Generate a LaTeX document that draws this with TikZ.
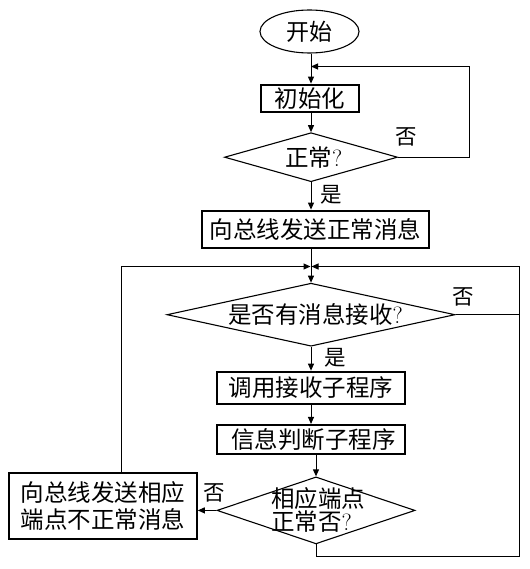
\documentclass[tikz,border=0pt]{standalone}
\usepackage{fontspec}
\newfontfamily\cjk{Noto Sans CJK SC}
\usetikzlibrary{arrows.meta,shapes.geometric}
\begin{document}
\begin{tikzpicture}[x=1pt,y=-1pt,
  line width=1pt,
  arr/.style={-{Triangle[length=7pt,width=6pt]}},
  txt/.style={inner sep=0pt,font=\cjk\fontsize{23.5}{23}\selectfont},
  proc/.style={draw,line width=2.2pt,rectangle,inner sep=0pt,font=\cjk\fontsize{23.5}{27}\selectfont,align=center},
  dec/.style={draw,line width=1.1pt,diamond,inner sep=0pt},
  lab/.style={inner sep=0pt,font=\cjk\fontsize{21.5}{24}\selectfont},
]
\useasboundingbox (0,0) rectangle (529,569);
\coordinate (ax) at (311,0);
\coordinate (ax2) at (316,0);
\coordinate (lx) at (121.7,0);
\coordinate (rx) at (519.5,0);
\coordinate (l1x) at (469,0);
\coordinate (t1) at (0,66.5);
\coordinate (bot) at (0,556);
\coordinate (m) at (311,266.5);

\node[draw,ellipse,line width=1.1pt,minimum width=99pt,minimum height=43pt,inner sep=0pt,font=\cjk\fontsize{23}{23}\selectfont] (start) at (309.5,31.5) {开始};
\node[proc,minimum width=98pt,minimum height=27.6pt] (init) at (310,98.5) {初始化};
\node[dec,minimum width=173pt,minimum height=49pt] (d1) at (311,157.2) {};
\node[txt] (d1t) at (313.7,158) {正常{\rmfamily ?}};
\node[proc,minimum width=227.6pt,minimum height=37.6pt] (box2) at (315.5,229.5) {向总线发送正常消息};
\node[dec,minimum width=288pt,minimum height=63pt] (d2) at (311,314.7) {};
\node[txt] (d2t) at (315.5,314) {是否有消息接收{\rmfamily ?}};
\node[proc,minimum width=188pt,minimum height=32.3pt] (box3) at (311,387.9) {调用接收子程序};
\node[proc,minimum width=188pt,minimum height=29.3pt] (box4) at (311,439.7) {\hspace*{5pt}信息判断子程序};
\node[dec,minimum width=198pt,minimum height=67pt] (d3) at (316,510.4) {};
\node[txt,align=left] (d3t) at (318,509.5) {相应端点\\正常否{\rmfamily ?}};
\node[proc,minimum width=187.4pt,minimum height=66pt] (box5) at (103,506.3) {向总线发送相应\\端点不正常消息};

\node[lab] (n1) at (406.7,136.7) {否};
\node[lab] (y1) at (331.7,195) {是};
\node[lab] (n2) at (463.7,297.3) {否};
\node[lab] (y2) at (335,358) {是};
\node[lab] (n3) at (214,493) {否};

\draw[arr] (ax |- start.south) -- (ax |- init.north);
\draw[arr] (ax |- init.south) -- (d1.north);
\draw[arr] (d1.south) -- (d1.south |- box2.north);
\draw[arr] (ax |- box2.south) -- (d2.north);
\draw[arr] (d2.south) -- (d2.south |- box3.north);
\draw[arr] (ax |- box3.south) -- (ax |- box4.north);
\draw[arr] (ax2 |- box4.south) -- (d3.north);
\draw[arr] (d3.west) -- (d3.west -| box5.east);
\draw[arr] (d1.east) -- (d1.east -| l1x) -- (l1x |- t1) -- (ax |- t1);
\draw[arr] (lx |- box5.north) -- (lx |- m) -- ([xshift=-0.5pt]m);
\draw[arr] (d3.south) -- (d3.south |- bot) -- (rx |- bot) -- (rx |- m) -- ([xshift=0.5pt]m);
\draw (d2.east) -- (d2.east -| rx);
\end{tikzpicture}
\end{document}
